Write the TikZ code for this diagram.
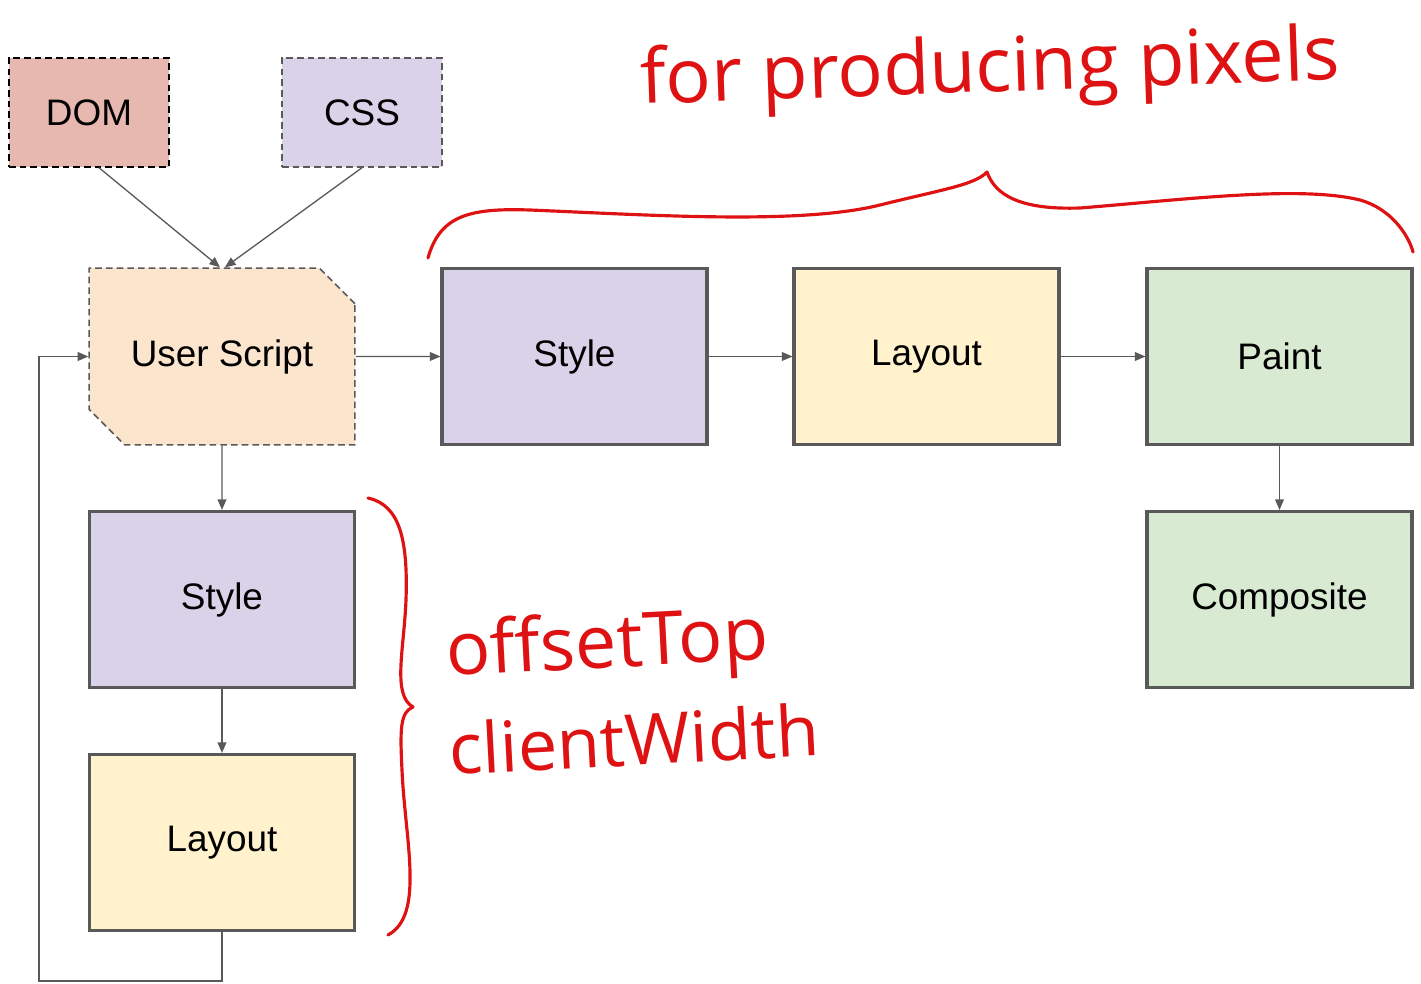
\documentclass[tikz,border=0pt]{standalone}
\usepackage{fontspec}
\setmainfont{Liberation Sans}
\newfontfamily\handfont{Open Sans}
\usepackage{xcolor}
\usetikzlibrary{
	arrows.meta,shapes.misc
}

\definecolor{domred}{HTML}{E6B8AF}
\definecolor{csspurple}{HTML}{D9D2E9}
\definecolor{scriptorange}{HTML}{FCE5CD}
\definecolor{layoutyellow}{HTML}{FFF2CC}
\definecolor{paintgreen}{HTML}{D9EAD3}
\definecolor{edgegray}{HTML}{595959}
\definecolor{inkred}{RGB}{222,18,18}

\tikzset{
	stage/.style={draw=edgegray,line width=1.8pt,minimum width=5.3cm,
		minimum height=3.52cm,inner sep=0pt,font=\fontsize{21}{25}\selectfont},
	source/.style={draw=edgegray,dash pattern=on 3.8pt off 2.3pt,line width=0.85pt,
		minimum width=3.2cm,minimum height=2.18cm,inner sep=0pt,
		font=\fontsize{21}{25}\selectfont},
	ink/.style={inkred,line width=1.8pt,line cap=round,line join=round},
	hand/.style={text=inkred,font=\handfont\fontsize{#1}{47}\selectfont,
		anchor=base west,inner sep=0pt},
	hand/.default=43
}

\begin{document}
\begin{tikzpicture}[x=0.02cm,y=-0.02cm]
		\useasboundingbox (0,0) rectangle (1421,984);
		\node[source,fill=domred,draw=black] (DOM) at (89,112.5) {DOM};
		\node[source,fill=csspurple] (CSS) at (362,112.5) {CSS};
		\node[source,fill=scriptorange,chamfered rectangle,
			chamfered rectangle corners={north east,south west},
			chamfered rectangle xsep=0.37cm,chamfered rectangle ysep=0.37cm,
			minimum width=5.32cm,minimum height=3.54cm] (US) at (222,356.5) {User Script};
		\node[stage,fill=csspurple] (S) at (574.5,356.5) {Style};
		\node[stage,fill=layoutyellow] (L) at (926.5,356.5) {Layout};
		\node[stage,fill=paintgreen] (P) at (1279.5,356.5) {Paint};
		\node[stage,fill=paintgreen] (C) at (1279.5,599.5) {Composite};
		\node[stage,fill=csspurple] (S') at (222,599.5) {Style};
		\node[stage,fill=layoutyellow] (L') at (222,842.5) {Layout};
		\coordinate (back) at (39,981);
		%
		\path[->,edgegray,line width=0.75pt,>={Triangle[length=6pt,width=5pt]}]
		([xshift=0.2cm]DOM.south) edge ([xshift=-0.04cm]US.north)
		(CSS.south) edge ([xshift=0.06cm]US.north)
		(US) edge (S)
		(S) edge (L)
		(L) edge (P)
		(P) edge (C)
		(US) edge (S')
		(S') edge (L');
		\draw[->,edgegray,line width=0.75pt,>={Triangle[length=6pt,width=5pt]}]
		(L'.south) |- (back) |- (US.west);
		%
		\draw[ink] (428,258) .. controls (440,215) and (470,208) .. (530,210)
			.. controls (650,215) and (800,225) .. (880,205)
			.. controls (940,190) and (975,185) .. (987,172)
			.. controls (995,195) and (1020,210) .. (1080,208)
			.. controls (1180,200) and (1300,185) .. (1360,200)
			.. controls (1395,210) and (1410,240) .. (1413,252);
		\draw[ink] (368,498) .. controls (400,505) and (408,540) .. (406,600)
			.. controls (404,650) and (392,695) .. (413,707)
			.. controls (400,712) and (400,730) .. (402,770)
			.. controls (405,840) and (425,915) .. (388,935);
		\node[hand,rotate=2] (pixels) at (641,104) {for producing pixels};
		\node[hand=42,rotate=3] (top) at (447,676) {offsetTop};
		\node[hand=40,rotate=3] (width) at (450,775) {clientWidth};
	\end{tikzpicture}
\end{document}
